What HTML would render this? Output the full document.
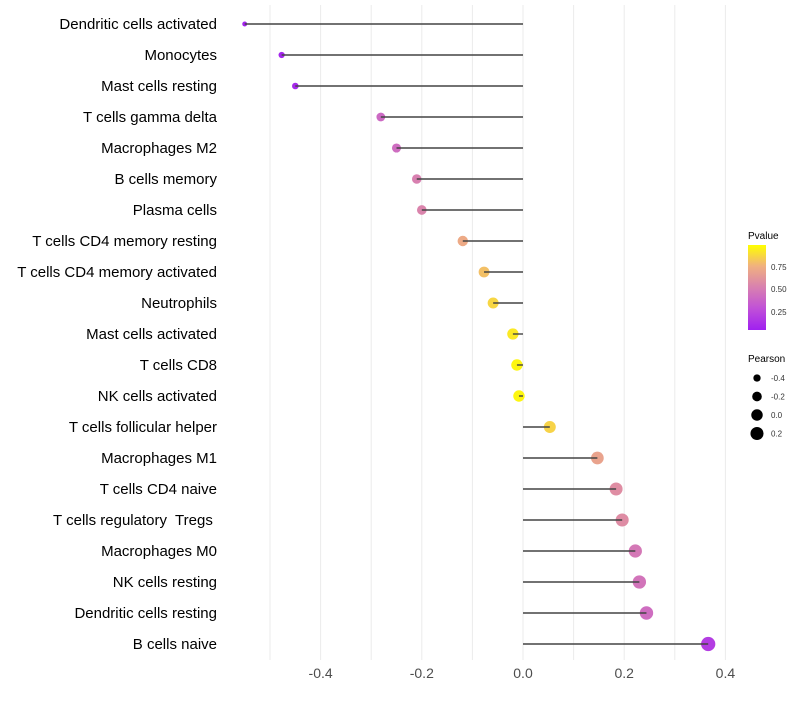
<!DOCTYPE html>
<html><head><meta charset="utf-8"><style>
body{margin:0;background:#fff}
svg text{font-family:"Liberation Sans",Arial,sans-serif}
#ylab text{white-space:pre}
</style></head><body>
<svg id="chart" width="800" height="700">
<defs><linearGradient id="pg" x1="0" y1="1" x2="0" y2="0">
<stop offset="0" stop-color="#a020f0"/><stop offset="0.25" stop-color="#c050d8"/><stop offset="0.5" stop-color="#d880b0"/><stop offset="0.75" stop-color="#f0b080"/><stop offset="1" stop-color="#ffff00"/>
</linearGradient></defs>
<g id="grid"></g><g id="dots"></g><g id="stems"></g><g id="ylab"></g><g id="xlab"></g>
<g>
<text x="748" y="239" font-size="10" fill="#000">Pvalue</text>
<rect x="748" y="245" width="18" height="85" fill="url(#pg)"/>
<text x="771" y="270" font-size="8" fill="#333">0.75</text>
<text x="771" y="292" font-size="8" fill="#333">0.50</text>
<text x="771" y="315" font-size="8" fill="#333">0.25</text>
</g>
<g id="sizeleg">
<text x="748" y="362" font-size="10" fill="#000">Pearson</text>
</g>
</svg>
<script>
const categories=["Dendritic cells activated","Monocytes","Mast cells resting","T cells gamma delta","Macrophages M2","B cells memory","Plasma cells","T cells CD4 memory resting","T cells CD4 memory activated","Neutrophils","Mast cells activated","T cells CD8","NK cells activated","T cells follicular helper","Macrophages M1","T cells CD4 naive","T cells regulatory  Tregs ","Macrophages M0","NK cells resting","Dendritic cells resting","B cells naive"];
const pearson=[-0.55,-0.477,-0.45,-0.281,-0.25,-0.21,-0.2,-0.119,-0.077,-0.059,-0.02,-0.012,-0.008,0.053,0.147,0.184,0.196,0.222,0.23,0.244,0.366];
const pvalue=[0.02,0.03,0.05,0.38,0.4,0.5,0.52,0.72,0.8,0.87,0.93,0.97,0.97,0.86,0.68,0.57,0.56,0.46,0.44,0.4,0.15];
const xTicks=[-0.4,-0.2,0.0,0.2,0.4];
const sizeLegend=[-0.4,-0.2,0.0,0.2];
const NS="http://www.w3.org/2000/svg";
const xs=v=>523+v*506;
const ys=i=>24+i*31;
const rs=v=>Math.sqrt(Math.max(1,33+49*v));
const stops=[[0,[160,32,240]],[0.25,[192,80,216]],[0.5,[216,128,176]],[0.75,[240,176,128]],[1,[255,255,0]]];
function col(p){for(let k=1;k<stops.length;k++){if(p<=stops[k][0]){const a=stops[k-1],b=stops[k],t=(p-a[0])/(b[0]-a[0]);return "rgb("+a[1].map((c,j)=>Math.round(c+(b[1][j]-c)*t)).join(",")+")";}}return "rgb(255,255,0)";}
function mk(t,at,parent){const e=document.createElementNS(NS,t);for(const k in at)e.setAttribute(k,at[k]);parent.appendChild(e);return e;}
const grid=document.getElementById('grid'),dots=document.getElementById('dots'),stems=document.getElementById('stems'),yl=document.getElementById('ylab'),xl=document.getElementById('xlab');
for(let v=-0.5;v<=0.41;v+=0.1){const g=mk('line',{x1:xs(v),x2:xs(v),y1:5,y2:660,stroke:'#ebebeb','stroke-width':1},grid);

}
xTicks.forEach(v=>{const t=mk('text',{x:xs(v),y:678,'font-size':14,fill:'#4d4d4d','text-anchor':'middle'},xl);t.textContent=v.toFixed(1);

});
categories.forEach((c,i)=>{
const t=mk('text',{x:217,y:ys(i)+5,'font-size':15,fill:'#000','text-anchor':'end'},yl);t.textContent=c;


const d=mk('circle',{cx:xs(pearson[i]),cy:ys(i),r:rs(pearson[i]),fill:col(pvalue[i])},dots);


const l=mk('line',{x1:xs(0),x2:xs(pearson[i]),y1:ys(i),y2:ys(i),stroke:'#444','stroke-width':1.4},stems);


});
const sl=document.getElementById('sizeleg');
sizeLegend.forEach((v,i)=>{const y=378+i*18.5;
const c=mk('circle',{cx:757,cy:y,r:rs(v),fill:'#000'},sl);


const t=mk('text',{x:771,y:y+3,'font-size':8,fill:'#333'},sl);t.textContent=v.toFixed(1);

});
</script>
</body></html>
